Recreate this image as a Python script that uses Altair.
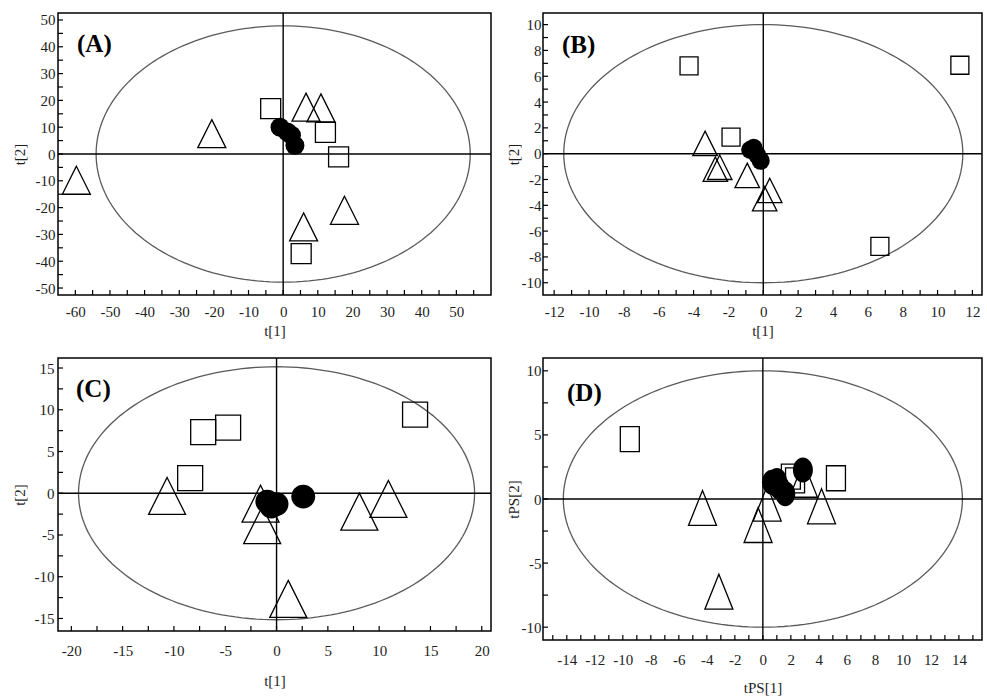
import altair as alt
import pandas as pd

FONT = "Liberation Serif"
TXT = "#1e1e1e"

# ---------------- Panel A ----------------
a_tri_x = [-59.7, -20.6, 6.6, 10.9, 17.7, 5.9]
a_tri_y = [-9.8, 7.6, 17.5, 17.2, -21.0, -27.2]
a_sq_x = [-3.6, 12.2, 16.0, 5.2]
a_sq_y = [16.9, 8.1, -1.1, -37.2]
a_ci_x = [-0.9, 1.2, 2.4, 3.4]
a_ci_y = [10.0, 8.2, 7.0, 3.2]
a_xdomain = [-65, 60]
a_ydomain = [-52.6, 52.6]
a_ellipse = [54.0, 47.8]
a_xlabels = [-60, -50, -40, -30, -20, -10, 0, 10, 20, 30, 40, 50]
a_ylabels = [-50, -40, -30, -20, -10, 0, 10, 20, 30, 40, 50]
a_xticks = [-60, -55, -50, -45, -40, -35, -30, -25, -20, -15, -10, -5, 0, 5, 10, 15, 20, 25, 30, 35, 40, 45, 50, 55]
a_yticks = [-50, -45, -40, -35, -30, -25, -20, -15, -10, -5, 0, 5, 10, 15, 20, 25, 30, 35, 40, 45, 50]

# ---------------- Panel B ----------------
b_tri_x = [-3.34, -2.75, -2.5, -0.92, 0.37, 0.08]
b_tri_y = [0.8, -1.2, -1.05, -1.68, -2.85, -3.49]
b_sq_x = [-4.26, 11.28, 6.69, -1.85]
b_sq_y = [6.8, 6.85, -7.18, 1.29]
b_ci_x = [-0.75, -0.55, -0.35, -0.15]
b_ci_y = [0.3, 0.45, -0.1, -0.55]
b_xdomain = [-12.64, 12.55]
b_ydomain = [-10.95, 10.9]
b_ellipse = [11.45, 10.0]
b_xlabels = [-12, -10, -8, -6, -4, -2, 0, 2, 4, 6, 8, 10, 12]
b_ylabels = [-10, -8, -6, -4, -2, 0, 2, 4, 6, 8, 10]
b_xticks = [-12, -11, -10, -9, -8, -7, -6, -5, -4, -3, -2, -1, 0, 1, 2, 3, 4, 5, 6, 7, 8, 9, 10, 11, 12]
b_yticks = [-10, -9, -8, -7, -6, -5, -4, -3, -2, -1, 0, 1, 2, 3, 4, 5, 6, 7, 8, 9, 10]

# ---------------- Panel C ----------------
c_tri_x = [-10.67, 8.07, 10.9, 1.14, -1.56, -1.4]
c_tri_y = [-0.32, -2.2, -0.68, -12.65, -1.25, -3.83]
c_sq_x = [-7.15, -4.72, -8.42, 13.5]
c_sq_y = [7.33, 7.85, 1.81, 9.42]
c_ci_x = [-0.9, -0.5, 0.0, 2.6]
c_ci_y = [-1.0, -1.6, -1.3, -0.4]
c_xdomain = [-21.3, 20.9]
c_ydomain = [-16.5, 16.2]
c_ellipse = [19.3, 15.15]
c_xlabels = [-20, -15, -10, -5, 0, 5, 10, 15, 20]
c_ylabels = [-15, -10, -5, 0, 5, 10, 15]
c_xticks = [-20, -17.5, -15, -12.5, -10, -7.5, -5, -2.5, 0, 2.5, 5, 7.5, 10, 12.5, 15, 17.5, 20]
c_yticks = [-15, -12.5, -10, -7.5, -5, -2.5, 0, 2.5, 5, 7.5, 10, 12.5, 15]

# ---------------- Panel D ----------------
d_tri_x = [-4.31, -3.14, -0.34, 0.31, 4.19, 2.9]
d_tri_y = [-0.7, -7.23, -2.03, -0.36, -0.57, 1.5]
d_sq_x = [-9.5, 5.22, 2.0, 2.3]
d_sq_y = [4.67, 1.62, 1.75, 1.45]
d_ci_x = [0.65, 1.0, 1.2, 1.6, 2.86]
d_ci_y = [1.3, 1.45, 0.9, 0.4, 2.27]
d_xdomain = [-15.7, 15.65]
d_ydomain = [-11.0, 11.0]
d_ellipse = [14.25, 10.0]
d_xlabels = [-14, -12, -10, -8, -6, -4, -2, 0, 2, 4, 6, 8, 10, 12, 14]
d_ylabels = [-10, -5, 0, 5, 10]
d_xticks = [-15, -14, -13, -12, -11, -10, -9, -8, -7, -6, -5, -4, -3, -2, -1, 0, 1, 2, 3, 4, 5, 6, 7, 8, 9, 10, 11, 12, 13, 14, 15]
d_yticks = [-10, -7.5, -5, -2.5, 0, 2.5, 5, 7.5, 10]

TRI = "M0,-1L1,1L-1,1Z"
TRI_TALL = "M0,-1L0.8,1L-0.8,1Z"
SQ_TALL = "M-0.76,-1L0.76,-1L0.76,1L-0.76,1Z"
ELL_TALL = "M-0.8,0A0.8,1,0,1,0,0.8,0A0.8,1,0,1,0,-0.8,0Z"


def panel(label, tri_x, tri_y, sq_x, sq_y, ci_x, ci_y, xdom, ydom, ell,
          xlabels, ylabels, xticks, yticks, xtitle, ytitle, w, h,
          shapes, sizes, ax, label_pos):
    xlp, xtp, ylp, yext, ytp = ax
    xaxis = alt.Axis(values=xlabels, ticks=False, tickSize=0, domain=False, grid=False,
                     labelExpr="datum.value + ''", labelFont=FONT, labelFontSize=15,
                     labelColor=TXT, labelPadding=xlp, labelFlush=False, labelOverlap=False,
                     title=xtitle, titleFont=FONT, titleFontSize=15, titleFontWeight="normal",
                     titleColor=TXT, titlePadding=xtp)
    yaxis = alt.Axis(values=ylabels, ticks=False, tickSize=0, domain=False, grid=False,
                     labelExpr="datum.value + ''", labelFont=FONT, labelFontSize=15,
                     labelColor=TXT, labelPadding=ylp, labelFlush=False, labelOverlap=False,
                     minExtent=yext, maxExtent=yext,
                     title=ytitle, titleFont=FONT, titleFontSize=15, titleFontWeight="normal",
                     titleColor=TXT, titlePadding=ytp)
    xs = alt.Scale(domain=xdom, nice=False, zero=False)
    ys = alt.Scale(domain=ydom, nice=False, zero=False)
    X = alt.X("x:Q", scale=xs, axis=xaxis)
    Y = alt.Y("y:Q", scale=ys, axis=yaxis)

    ellipse = alt.Chart(alt.sequence(0, 361, 2, as_="t")).transform_calculate(
        x=f"{ell[0]}*cos(datum.t*PI/180)", y=f"{ell[1]}*sin(datum.t*PI/180)"
    ).mark_line(color="#5a5a5a", strokeWidth=1.3).encode(x=X, y=Y, order="t:Q")

    vzero = alt.Chart(pd.DataFrame({"x": [0]})).mark_rule(color="black", strokeWidth=1.4).encode(x=X)
    hzero = alt.Chart(pd.DataFrame({"y": [0]})).mark_rule(color="black", strokeWidth=1.4).encode(y=Y)

    xt = alt.Chart(pd.DataFrame({"x": xticks})).mark_rule(color="black", strokeWidth=1.2).encode(
        x=X, y=alt.value(h), y2=alt.value(h - 5))
    yt = alt.Chart(pd.DataFrame({"y": yticks})).mark_rule(color="black", strokeWidth=1.2).encode(
        y=Y, x=alt.value(0), x2=alt.value(5))

    tri = alt.Chart(pd.DataFrame({"x": tri_x, "y": tri_y})).mark_point(
        shape=shapes[0], size=sizes[0], filled=False, color="black", strokeWidth=1.3, opacity=1
    ).encode(x=X, y=Y)
    sq = alt.Chart(pd.DataFrame({"x": sq_x, "y": sq_y})).mark_point(
        shape=shapes[1], size=sizes[1], filled=False, color="black", strokeWidth=1.3, opacity=1
    ).encode(x=X, y=Y)
    ci = alt.Chart(pd.DataFrame({"x": ci_x, "y": ci_y})).mark_point(
        shape=shapes[2], size=sizes[2], filled=True, color="black", opacity=1
    ).encode(x=X, y=Y)

    txt = alt.Chart(pd.DataFrame({"t": [label]})).mark_text(
        font=FONT, fontSize=25, fontWeight="bold", color="black", align="left", baseline="middle"
    ).encode(text="t:N", x=alt.value(label_pos[0]), y=alt.value(label_pos[1]))

    return alt.layer(ellipse, vzero, hzero, xt, yt, tri, sq, ci, txt).properties(width=w, height=h)


A = panel("(A)", a_tri_x, a_tri_y, a_sq_x, a_sq_y, a_ci_x, a_ci_y, a_xdomain, a_ydomain, a_ellipse,
          a_xlabels, a_ylabels, a_xticks, a_yticks, "t[1]", "t[2]", 433, 282,
          [TRI, "square", "circle"], [784, 400, 360], (9, 4, 3, 28, 3), (19, 31))
B = panel("(B)", b_tri_x, b_tri_y, b_sq_x, b_sq_y, b_ci_x, b_ci_y, b_xdomain, b_ydomain, b_ellipse,
          b_xlabels, b_ylabels, b_xticks, b_yticks, "t[1]", "t[2]", 439, 282,
          [TRI, "square", "circle"], [600, 324, 330], (9, 4, 2, 21, 1), (19, 32))
C = panel("(C)", c_tri_x, c_tri_y, c_sq_x, c_sq_y, c_ci_x, c_ci_y, c_xdomain, c_ydomain, c_ellipse,
          c_xlabels, c_ylabels, c_xticks, c_yticks, "t[1]", "t[2]", 433, 273,
          [TRI, "square", "circle"], [1369, 625, 570], (12, 15, 4, 28, 3), (18, 31))
D = panel("(D)", d_tri_x, d_tri_y, d_sq_x, d_sq_y, d_ci_x, d_ci_y, d_xdomain, d_ydomain, d_ellipse,
          d_xlabels, d_ylabels, d_xticks, d_yticks, "tPS[1]", "tPS[2]", 439, 282,
          [TRI_TALL, SQ_TALL, ELL_TALL], [1225, 625, 625], (12, 13, 2, 21, 1), (24, 35))

row1 = alt.hconcat(A, B, spacing=12)
row2 = alt.hconcat(C, D, spacing=12)
chart = alt.vconcat(row1, row2, spacing=17).properties(
    padding={"left": 11, "top": 11, "right": 0, "bottom": 0},
    background="white",
).configure_view(stroke="black", strokeWidth=1.5)

chart.save("out.html", embed_options={"renderer": "svg", "actions": False})
